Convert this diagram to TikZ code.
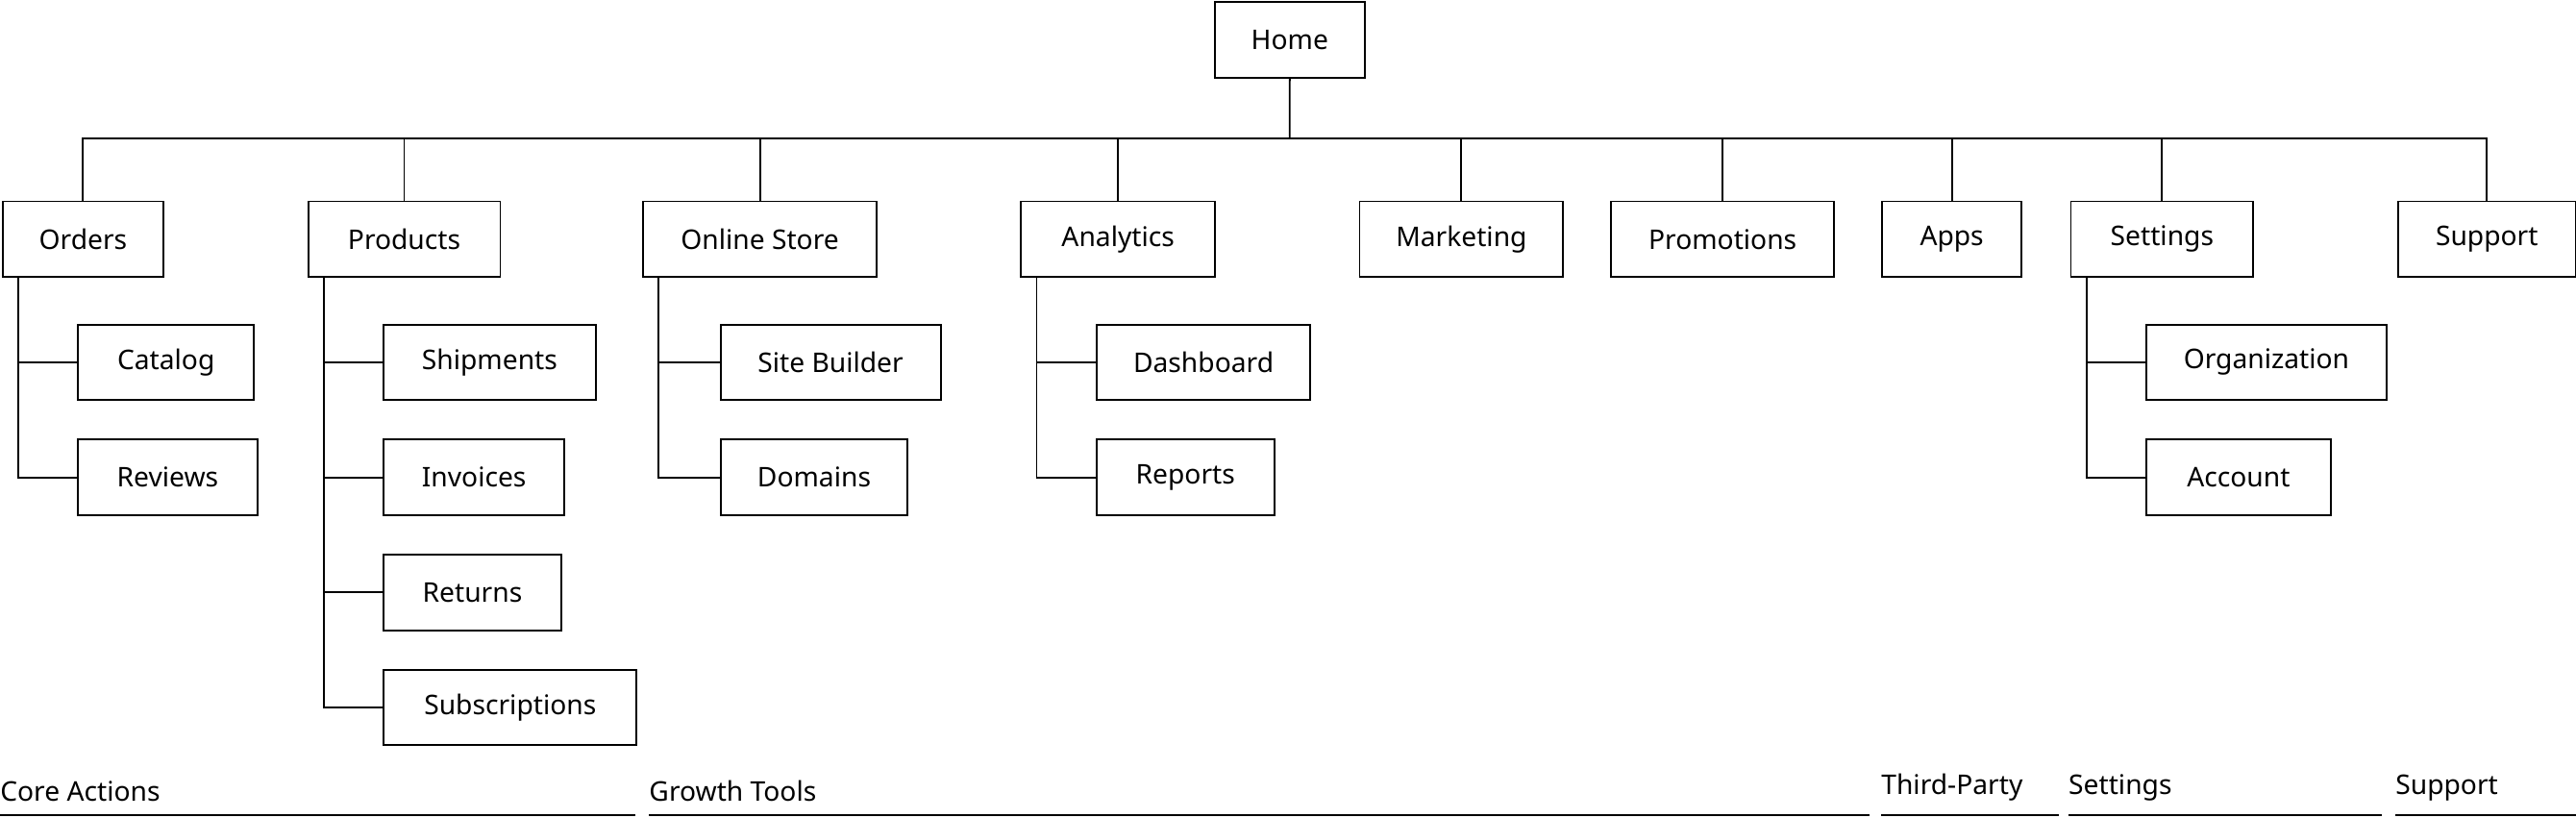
\documentclass[tikz,border=0pt]{standalone}
\usepackage{fontspec}
\setmainfont{Noto Sans}
\begin{document}
\begin{tikzpicture}[x=1pt,y=-1pt,
  box/.style={draw,line width=1.1pt,anchor=north west,minimum height=46pt,inner sep=0pt,font=\fontsize{16.5}{19}\selectfont},
  ln/.style={line width=1.1pt},
  grp/.style={anchor=south west,inner sep=0pt,font=\fontsize{16.5}{19}\selectfont}]
\useasboundingbox (0,0) rectangle (1568,497.5);
\newcommand{\bx}[5]{\node[box,minimum width=#4pt] (#1) at (#2,#3) {#5};}
\bx{home}{739}{0.6}{91}{Home}
\bx{orders}{1}{122}{98}{Orders}
\bx{products}{187}{122}{117}{Products}
\bx{store}{391}{122}{142}{Online Store}
\bx{analytics}{621}{122}{118}{Analytics}
\bx{marketing}{827}{122}{124}{Marketing}
\bx{promotions}{980}{122}{136}{Promotions}
\bx{apps}{1145}{122}{85}{Apps}
\bx{settings}{1260}{122}{111}{Settings}
\bx{support}{1459}{122}{108.4}{Support}
\bx{catalog}{47}{197}{107}{Catalog}
\bx{reviews}{47}{267}{109}{Reviews}
\bx{shipments}{233}{197}{129}{Shipments}
\bx{invoices}{233}{267}{110}{Invoices}
\bx{returns}{233}{337}{108}{Returns}
\bx{subscriptions}{233}{407}{154}{Subscriptions}
\bx{builder}{438}{197}{134}{Site Builder}
\bx{domains}{438}{267}{114}{Domains}
\bx{dashboard}{667}{197}{130}{Dashboard}
\bx{reports}{667}{267}{108}{Reports}
\bx{organization}{1306}{197}{146}{Organization}
\bx{account}{1306}{267}{112}{Account}
\coordinate (bus) at (785,84);
\draw[ln] (home.south) -- (bus);
\draw[ln] (orders.north) |- (bus) -| (support.north);
\foreach \n in {products,store,analytics,marketing,promotions,apps,settings}
  \draw[ln] (\n.north) -- (\n.north |- bus);
\foreach \p/\c in {orders/catalog,orders/reviews,products/shipments,products/invoices,products/returns,products/subscriptions,store/builder,store/domains,analytics/dashboard,analytics/reports,settings/organization,settings/account}
  \draw[ln] ([xshift=10pt]\p.south west) |- (\c.west);
\foreach \t/\a/\b in {Core Actions/0/387,Growth Tools/395/1138,Third-Party/1145/1253,Settings/1259/1450,Support/1458/1568}{
  \node[grp] at (\a,488) {\t};
  \draw[ln] (\a,496) -- (\b,496);}
\end{tikzpicture}
\end{document}
